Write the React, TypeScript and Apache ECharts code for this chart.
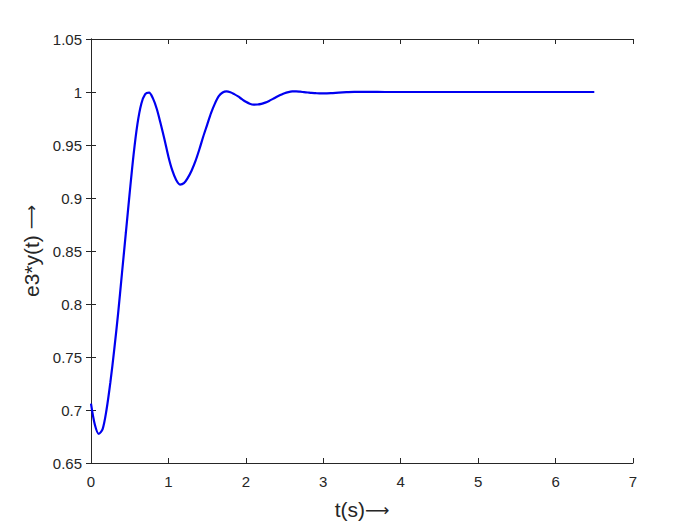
import React, { useEffect, useRef } from "react";
import * as echarts from "echarts";

const tValues = [
  0, 0.05, 0.1, 0.15, 0.2, 0.25, 0.3, 0.35, 0.4, 0.45, 0.5, 0.55, 0.6, 0.65, 0.7, 0.75, 0.8, 0.85, 0.9, 0.95,
  1.0, 1.05, 1.1, 1.15, 1.2, 1.25, 1.3, 1.35, 1.4, 1.45, 1.5, 1.55, 1.6, 1.65, 1.7, 1.75, 1.8, 1.85, 1.9, 1.95,
  2.0, 2.05, 2.1, 2.15, 2.2, 2.25, 2.3, 2.35, 2.4, 2.45, 2.5, 2.55, 2.6, 2.65, 2.7, 2.75, 2.8, 2.85, 2.9, 2.95,
  3.0, 3.1, 3.2, 3.3, 3.4, 3.5, 3.6, 3.8, 4.0, 4.5, 5.0, 5.5, 6.0, 6.5,
];
const yValues = [
  0.706, 0.686, 0.6775, 0.682, 0.7, 0.726, 0.757, 0.791, 0.829, 0.867, 0.905, 0.941, 0.97, 0.989, 0.998, 0.9995, 0.994, 0.984, 0.97, 0.955,
  0.939, 0.926, 0.917, 0.9127, 0.914, 0.919, 0.926, 0.935, 0.946, 0.958, 0.969, 0.98, 0.989, 0.996, 0.9995, 1.0006, 0.9998, 0.998, 0.9958, 0.9932,
  0.9908, 0.989, 0.9881, 0.9882, 0.9888, 0.99, 0.9916, 0.9935, 0.9955, 0.9973, 0.9989, 0.9999, 1.0005, 1.0006, 1.0003, 0.9999, 0.9995, 0.9991, 0.9989, 0.9987,
  0.9987, 0.9989, 0.9994, 0.9998, 1.0001, 1.0001, 1.0001, 1.0, 1.0, 1.0, 1.0, 1.0, 1.0, 1.0,
];
const xLabel = "t(s){a|\u27F6}";
const yLabel = "e3*y(t) {a|\u27F6}";

const fmt = (v: number) => String(parseFloat(v.toFixed(2)));

export default function App() {
  const ref = useRef<HTMLDivElement>(null);
  useEffect(() => {
    if (!ref.current) return;
    const chart = echarts.init(ref.current, undefined, { renderer: "svg" });
    const axisColor = "#262626";
    const font = "'Liberation Sans', Arial, sans-serif";
    const nameStyle = {
      fontFamily: font,
      fontSize: 21,
      color: axisColor,
      rich: { a: { fontFamily: "'DejaVu Sans'", fontSize: 17, color: axisColor } },
    };
    const baseX = {
      type: "value" as const,
      min: 0,
      max: 7,
      interval: 1,
      splitLine: { show: false },
      axisLine: { show: true, lineStyle: { color: axisColor, width: 1 } },
      axisTick: { show: true, inside: true, length: 5, lineStyle: { color: axisColor } },
    };
    const baseY = {
      type: "value" as const,
      min: 0.65,
      max: 1.05,
      interval: 0.05,
      splitLine: { show: false },
      axisLine: { show: true, lineStyle: { color: axisColor, width: 1 } },
      axisTick: { show: true, inside: true, length: 5, lineStyle: { color: axisColor } },
    };
    chart.setOption({
      animation: false,
      backgroundColor: "#ffffff",
      grid: { left: 91, right: 67, top: 39, bottom: 60, containLabel: false },
      xAxis: [
        {
          ...baseX,
          position: "bottom",
          name: xLabel,
          nameLocation: "middle",
          nameGap: 36,
          nameTextStyle: nameStyle,
          axisLabel: { show: true, margin: 11, fontFamily: font, fontSize: 15, color: axisColor, formatter: (v: number) => fmt(v) },
        },
        { ...baseX, position: "top", axisLabel: { show: false } },
      ],
      yAxis: [
        {
          ...baseY,
          position: "left",
          name: yLabel,
          nameLocation: "middle",
          nameGap: 40,
          nameTextStyle: nameStyle,
          axisLabel: { show: true, margin: 9, fontFamily: font, fontSize: 15, color: axisColor, formatter: (v: number) => fmt(v) },
        },
        { ...baseY, position: "right", axisLabel: { show: false } },
      ],
      series: [
        {
          type: "line",
          data: tValues.map((t, i) => [t, yValues[i]]),
          smooth: 0.3,
          showSymbol: false,
          symbol: "none",
          lineStyle: { color: "#0000f0", width: 2.2 },
          xAxisIndex: 0,
          yAxisIndex: 0,
        },
      ],
    });
    return () => chart.dispose();
  }, []);
  return <div ref={ref} style={{ width: 700, height: 525, position: "absolute", left: 0, top: 0 }} />;
}
